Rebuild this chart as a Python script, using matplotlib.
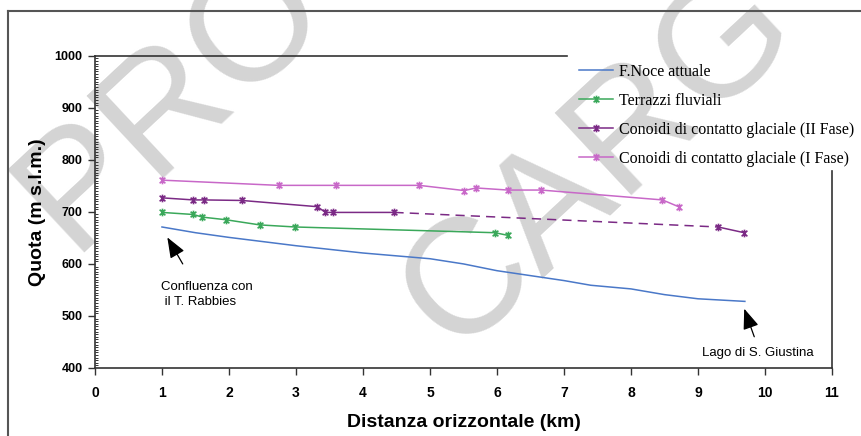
import matplotlib.pyplot as plt
from matplotlib.lines import Line2D
from matplotlib.path import Path
from matplotlib.ticker import MultipleLocator

# F.Noce attuale
noce_km = [1.0, 1.5, 2.0, 3.0, 4.0, 5.0, 5.5, 6.0, 7.0, 7.4, 8.0, 8.5, 9.0, 9.7]
noce_quota = [671, 660, 651, 635, 621, 610, 600, 587, 568, 559, 552, 541, 533, 528]

# Terrazzi fluviali
terr_km = [1.0, 1.47, 1.6, 1.95, 2.46, 2.99, 5.97, 6.16]
terr_quota = [699, 695, 690, 685, 675, 671, 660, 655]

# Conoidi II fase (tratteggiato tra il punto 8 e il 9)
fase2_km = [1.0, 1.47, 1.63, 2.19, 3.32, 3.44, 3.56, 4.47, 9.3, 9.69]
fase2_quota = [727, 723, 723, 722, 710, 699, 699, 699, 671, 660]

# Conoidi I fase
fase1_km = [1.0, 2.74, 3.6, 4.84, 5.51, 5.69, 6.16, 6.66, 8.47, 8.71]
fase1_quota = [761, 751, 751, 751, 741, 746, 742, 742, 723, 710]

labels = ['F.Noce attuale', 'Terrazzi fluviali',
          'Conoidi di contatto glaciale (II Fase)',
          'Conoidi di contatto glaciale (I Fase)']
colors = ['#4a78c8', '#3aa85a', '#7b2a85', '#c868c8']
x_ticks = list(range(0, 12))
y_ticks = list(range(400, 1001, 100))

# asterisco stile Excel
star = Path([(0, -1), (0, 1), (-0.75, -0.75), (0.75, 0.75), (-0.75, 0.75), (0.75, -0.75)],
            [Path.MOVETO, Path.LINETO, Path.MOVETO, Path.LINETO, Path.MOVETO, Path.LINETO])
mk = dict(marker=star, markersize=5.5, markeredgewidth=1.2)

fig = plt.figure(figsize=(8.61, 4.36), dpi=100)

# filigrana
wm = dict(family='Liberation Sans', color='#d4d4d4', fontsize=118, ha='center', va='center',
          rotation=43, zorder=-5)
fig.text(0.2, 0.77, 'PRO', **wm)
fig.text(0.695, 0.63, 'CARG', **wm)

ax = fig.add_axes([0.1103, 0.156, 0.856, 0.716])
ax.set_facecolor('none')

h1, = ax.plot(noce_km, noce_quota, color=colors[0], lw=1.1)
h2, = ax.plot(terr_km, terr_quota, color=colors[1], lw=1.1, **mk)
h3, = ax.plot(fase2_km[:8], fase2_quota[:8], color=colors[2], lw=1.1, **mk)
ax.plot(fase2_km[7:9], fase2_quota[7:9], color=colors[2], lw=1.1, ls=(0, (6, 4)))
ax.plot(fase2_km[8:], fase2_quota[8:], color=colors[2], lw=1.1, **mk)
h4, = ax.plot(fase1_km, fase1_quota, color=colors[3], lw=1.1, **mk)

ax.set_xlim(0, 11)
ax.set_ylim(400, 1000)
ax.set_xticks(x_ticks)
ax.set_yticks(y_ticks)
ax.yaxis.set_minor_locator(MultipleLocator(5))
ax.tick_params(axis='x', direction='out', length=5, width=1, labelsize=10, pad=8, color='#333')
ax.tick_params(axis='y', which='major', direction='out', length=5, width=1, labelsize=9, pad=4, color='#333')
ax.tick_params(axis='y', which='minor', direction='in', length=2.5, width=0.7, color='#333')
for lab in ax.get_xticklabels() + ax.get_yticklabels():
    lab.set_fontfamily('Liberation Sans')
    lab.set_fontweight('bold')

for s in ax.spines.values():
    s.set_color('#333')
    s.set_linewidth(1.2)
ax.spines['top'].set_bounds(0, 7.04)
ax.spines['right'].set_bounds(400, 778)

ax.set_xlabel('Distanza orizzontale (km)', family='Liberation Sans', fontweight='bold',
              fontsize=14, labelpad=10)
ax.set_ylabel('Quota (m s.l.m.)', family='Liberation Sans', fontweight='bold',
              fontsize=14, labelpad=6)

ax.annotate('', xy=(1.08, 651), xytext=(1.31, 600),
            arrowprops=dict(arrowstyle='-|>,head_length=0.9,head_width=0.35',
                            color='black', lw=0.9, mutation_scale=14, shrinkA=0, shrinkB=0))
ax.text(0.98, 568, 'Confluenza con\n il T. Rabbies', family='Liberation Sans', fontsize=9.5,
        va='top', ha='left', linespacing=1.4)
ax.annotate('', xy=(9.69, 514), xytext=(9.84, 460),
            arrowprops=dict(arrowstyle='-|>,head_length=0.9,head_width=0.35',
                            color='black', lw=0.9, mutation_scale=14, shrinkA=0, shrinkB=0))
ax.text(9.06, 429, 'Lago di S. Giustina', family='Liberation Sans', fontsize=9.5,
        va='center', ha='left')

ax.legend([h1, h2, h3, h4], labels, loc='upper left',
          bbox_to_anchor=(579 / 861, 1 - 63.5 / 436), bbox_transform=fig.transFigure,
          frameon=False, borderpad=0, borderaxespad=0, handlelength=2.1,
          handletextpad=0.4, labelspacing=0.82,
          prop={'family': 'Liberation Serif', 'size': 11.5})

# cornice esterna
fig.add_artist(Line2D([0.009, 0.009], [0, 0.975], transform=fig.transFigure, color='#555', lw=1.5))
fig.add_artist(Line2D([0.009, 1], [0.975, 0.975], transform=fig.transFigure, color='#555', lw=1.5))

fig.savefig('out.png', dpi=100)
